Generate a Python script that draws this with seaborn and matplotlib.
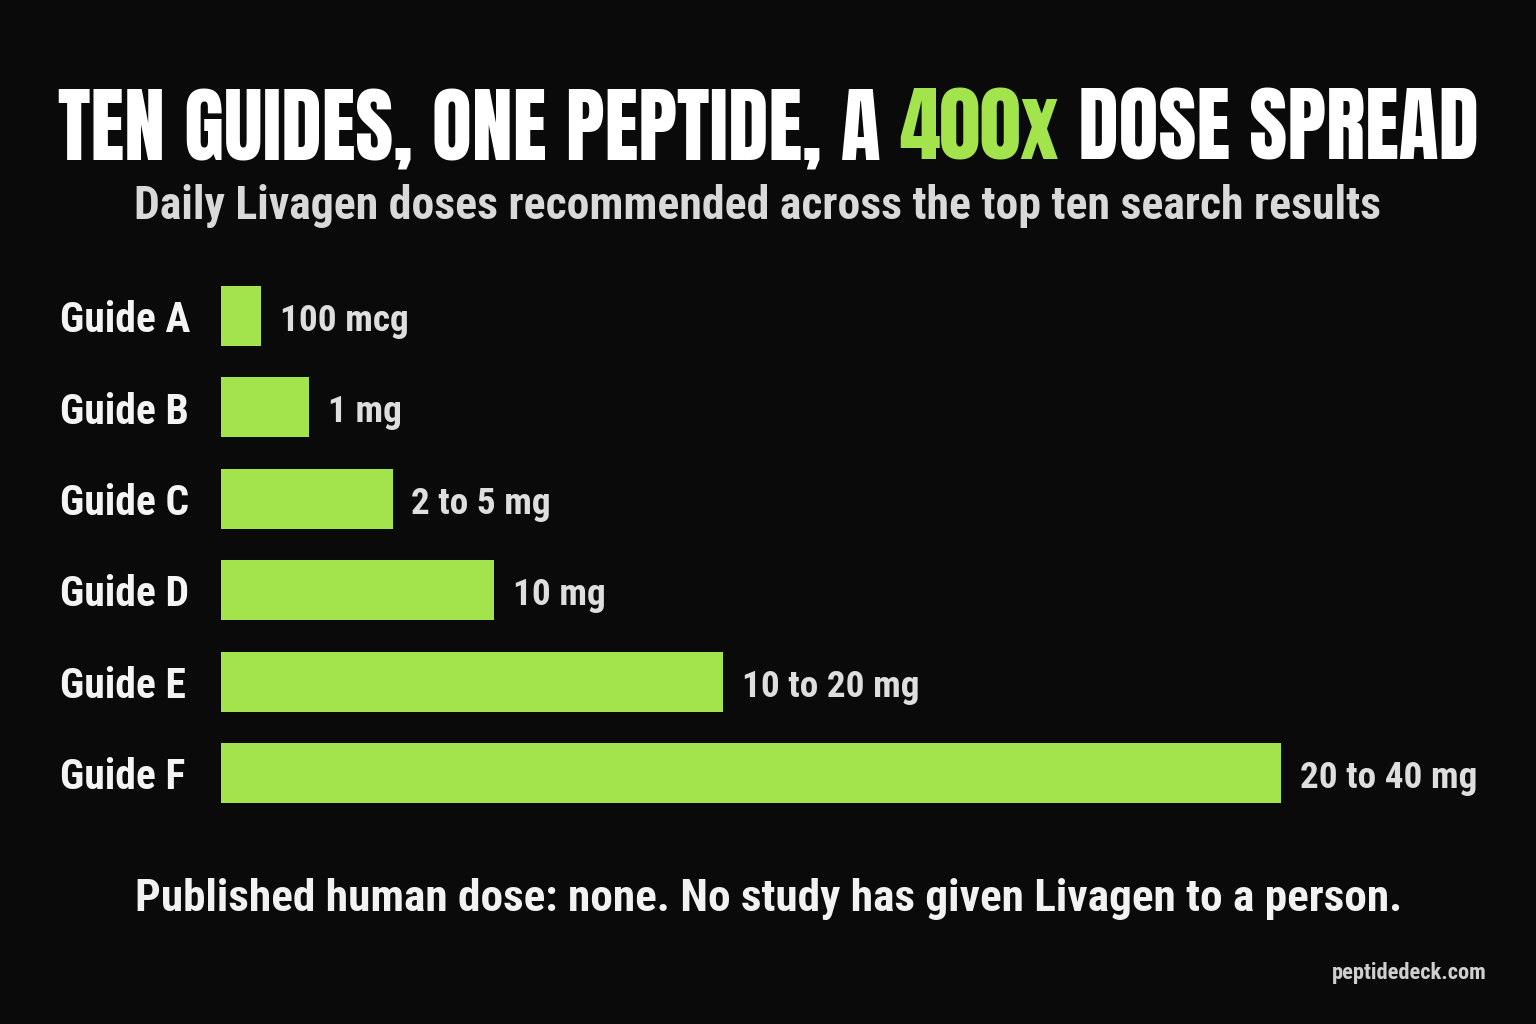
import matplotlib
matplotlib.use("Agg")
import matplotlib.pyplot as plt
import matplotlib.transforms as mtransforms
import seaborn as sns
import pandas as pd

# ---- data (bar lengths, relative to the longest bar) ----
guides = ["Guide A", "Guide B", "Guide C", "Guide D", "Guide E", "Guide F"]
bar_length = [3.8, 8.3, 16.2, 25.8, 47.4, 100.0]
dose_labels = ["100 mcg", "1 mg", "2 to 5 mg", "10 mg", "10 to 20 mg", "20 to 40 mg"]

title_parts = ["TEN GUIDES, ONE PEPTIDE, A ", "400x", " DOSE SPREAD"]
subtitle = "Daily Livagen doses recommended across the top ten search results"
footer = "Published human dose: none. No study has given Livagen to a person."
credit = "peptidedeck.com"

BG = "#0a0a0a"
GREEN = "#a3e44c"
TITLE_FONT = ["Anton", "Bebas Neue", "Oswald", "DejaVu Sans"]
BODY_FONT = ["Roboto Condensed", "Barlow Condensed", "DejaVu Sans"]

sns.set_theme(style="white")
plt.rcParams["font.family"] = BODY_FONT

W, H = 1536, 1024
fig = plt.figure(figsize=(W / 100, H / 100), dpi=100, facecolor=BG)
renderer = fig.canvas.get_renderer()


def fit(text_obj, target_px):
    w = text_obj.get_window_extent(renderer).width
    text_obj.set_fontsize(text_obj.get_fontsize() * target_px / w)
    return text_obj


def fit_size(s, target_px, **kw):
    t = fig.text(0, 0, s, fontsize=30, **kw)
    w = t.get_window_extent(renderer).width
    t.remove()
    return 30 * target_px / w


# axes region in pixels: bars from x=221 to 1281, rows centred 316..773
ax_left, ax_right = 221, 1281
ax_top, ax_bottom = 270.25, 818.75
ax = fig.add_axes([ax_left / W, 1 - ax_bottom / H, (ax_right - ax_left) / W, (ax_bottom - ax_top) / H])
ax.set_facecolor("none")

df = pd.DataFrame({"guide": guides, "length": bar_length})
sns.barplot(data=df, x="length", y="guide", orient="h", color=GREEN, saturation=1,
            width=0.656, ax=ax, edgecolor="none")
ax.set_xlim(0, 100)
ax.set_ylim(5.5, -0.5)
ax.set_axis_off()

# guide labels (left aligned at x=60px)
lab_size = fit_size("Guide A", 130, fontweight="bold")
trans_lab = mtransforms.blended_transform_factory(fig.transFigure, ax.transData)
for i, g in enumerate(guides):
    ax.text(60 / W, i + 0.178, g, transform=trans_lab, ha="left", va="baseline",
            fontsize=lab_size, fontweight="bold", color="#f4f4f4", clip_on=False)

# value labels
val_size = fit_size("20 to 40 mg", 178, fontweight="bold")
for i, (v, lab) in enumerate(zip(bar_length, dose_labels)):
    ax.annotate(lab, xy=(v, i + 0.165), xytext=(13.5, 0), textcoords="offset points",
                ha="left", va="baseline", fontsize=val_size, fontweight="bold",
                color="#dedede", annotation_clip=False)

# title with green highlight, centred
colors = ["#ffffff", GREEN, "#ffffff"]
ty = 1 - 160 / H
tsize = fit_size("".join(title_parts), 1420, family=TITLE_FONT)
pieces = []
for part, c in zip(title_parts, colors):
    t = fig.text(0, ty, part, fontsize=tsize, family=TITLE_FONT, color=c,
                 ha="left", va="baseline")
    pieces.append(t)
widths = [p.get_window_extent(renderer).width for p in pieces]
x = 768 - sum(widths) / 2
for p, w in zip(pieces, widths):
    p.set_x(x / W)
    x += w

fig.text(758 / W, 1 - 219 / H, subtitle, ha="center", va="baseline",
         fontsize=fit_size(subtitle, 1248, fontweight="bold"),
         fontweight="bold", color="#d9d9d9")

fig.text(768.5 / W, 1 - 911 / H, footer, ha="center", va="baseline",
         fontsize=fit_size(footer, 1269, fontweight="bold"),
         fontweight="bold", color="#f2f2f2")

fig.text(1487 / W, 1 - 979 / H, credit, ha="right", va="baseline",
         fontsize=fit_size(credit, 155, fontweight="bold"),
         fontweight="bold", color="#cfcfcf")

fig.savefig("out.png", dpi=100, facecolor=BG)
